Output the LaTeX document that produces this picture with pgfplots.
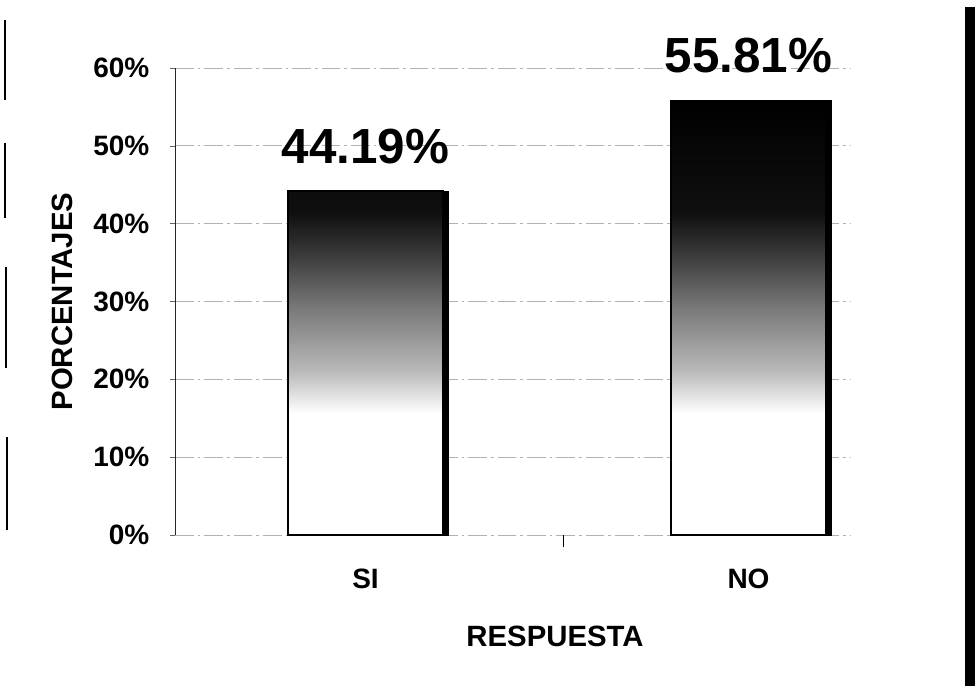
\documentclass[border=0pt]{standalone}
\usepackage{pgfplots}
\pgfplotsset{compat=1.18}
\usepackage{fontspec}
\setmainfont{Liberation Sans}

% white at the foot of each bar, black at its top (25bp..75bp = bar)
\pgfdeclareverticalshading{barshade}{100bp}{color(0bp)=(white); color(25bp)=(white); color(39bp)=(white); color(44bp)=(black!28); color(51bp)=(black!52); color(57bp)=(black!76); color(62bp)=(black!94); color(75bp)=(black); color(100bp)=(black)}

\begin{document}
\begin{tikzpicture}
  \useasboundingbox (0,0) rectangle (733.5pt,514.5pt);
  % remains of the scanned frame
  \draw[line width=7.5pt] (727.5pt,0) -- (727.5pt,509.25pt);
  \draw[line width=1.1pt] (3.75pt,499.5pt) -- (3.75pt,439.5pt);
  \draw[line width=1.1pt] (3.75pt,407.25pt) -- (3.75pt,351pt);
  \draw[line width=1.1pt] (4.5pt,314.25pt) -- (4.5pt,238.5pt);
  \draw[line width=1.1pt] (5.25pt,186.75pt) -- (5.25pt,117pt);
\begin{axis}[
    at={(131.25pt,113.25pt)}, anchor=south west,
    scale only axis, width=506.25pt, height=350.25pt,
    clip=false,
    xmin=-0.4974, xmax=1.265, ymin=0, ymax=60,
    xtick={0,1}, xticklabels={SI,NO},
    ytick={0,10,...,60},
    yticklabels={0\%,10\%,20\%,30\%,40\%,50\%,60\%},
    axis x line*=bottom, axis y line*=left,
    x axis line style={draw=none},
    y axis line style={black!85, line width=0.7pt, -},
    ymajorgrids,
    major grid style={gray!60, line width=0.7pt, dash pattern=on 14pt off 3pt on 2pt off 3pt},
    tick align=outside, major tick length=4pt,
    ytick style={black!60, line width=0.5pt},
    xtick style={draw=none},
    extra x ticks={0.516}, extra x tick labels={},
    extra x tick style={xtick style={draw=black, line width=0.7pt}, major tick length=9pt},
    /pgf/number format/assume math mode=true,
    tick label style={font=\fontsize{21}{25}\selectfont\bfseries, inner sep=0pt},
    yticklabel style={anchor=east, xshift=-15pt},
    xticklabel style={anchor=base, yshift=-36pt},
    xlabel={RESPUESTA}, ylabel={PORCENTAJES},
    label style={font=\fontsize{22}{26}\selectfont\bfseries},
    xlabel style={at={(axis description cs:0.563,-0.2398)}, anchor=base},
    ylabel style={at={(axis description cs:-0.1674,0.5)}, anchor=center},
  ]
  % shadow on the right of each bar
  \addplot[ybar, bar width=116.25pt, bar shift=3.75pt, fill=black, draw=black]
    coordinates {(0,44.19) (1,55.81)};
  \addplot[ybar, bar width=116.25pt, bar shift=0pt, shade, shading=barshade,
    draw=black, line width=1pt,
    nodes near coords, point meta=explicit symbolic,
    every node near coord/.append style={font=\fontsize{37}{40}\selectfont\bfseries,
      anchor=base, inner sep=0pt, yshift=21pt}]
    coordinates {(0,44.19) [44.19\%] (1,55.81) [55.81\%]};
\end{axis}
\end{tikzpicture}
\end{document}
